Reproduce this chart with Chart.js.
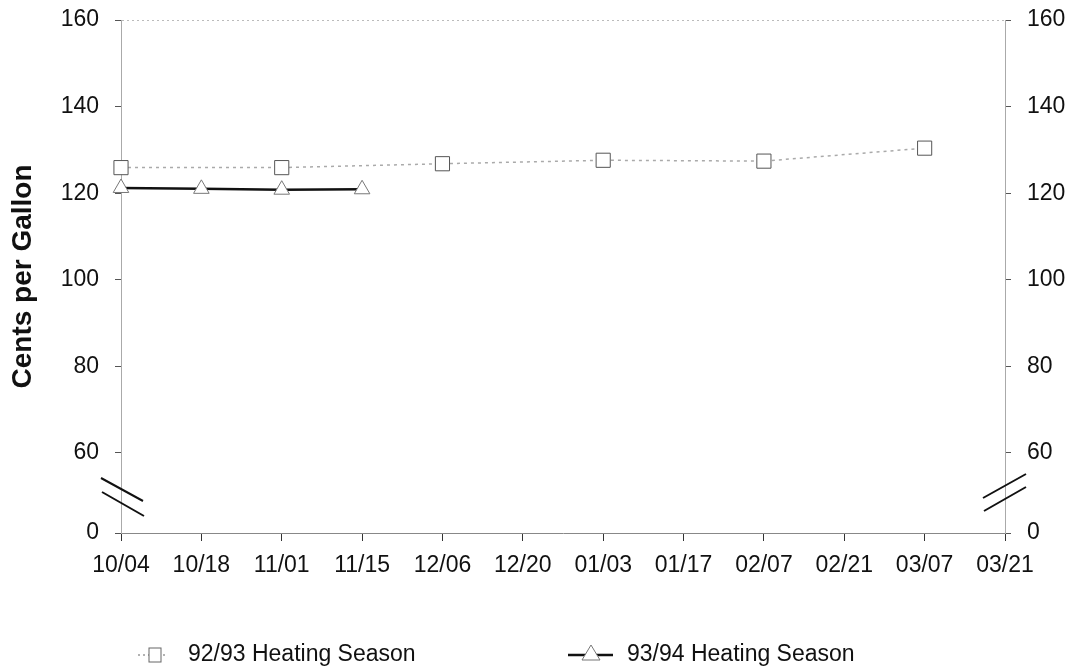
<!DOCTYPE html>
<html>
<head>
<meta charset="utf-8">
<script src="https://cdn.jsdelivr.net/npm/chart.js@4/dist/chart.umd.min.js"></script>
<style>
  html, body { margin: 0; padding: 0; background: #fff; }
  #wrap { width: 1074px; height: 666px; }
</style>
</head>
<body>
<div id="wrap"><canvas id="heating-chart" width="1074" height="666"></canvas></div>
<script>
var dates = ["10/04","10/18","11/01","11/15","12/06","12/20","01/03","01/17","02/07","02/21","03/07","03/21"];
var season9293 = [125.9, null, 125.9, null, 126.8, null, 127.6, null, 127.4, null, 130.4, null];
var season9394 = [121.2, 121.0, 120.8, 120.9, null, null, null, null, null, null, null, null];
var yTickLabels = [0, 60, 80, 100, 120, 140, 160];
var seriesNames = ["92/93 Heating Season", "93/94 Heating Season"];

// the axis is broken below 60: "0" is drawn one step under 60
var breakValue = 41.5;
var FONT = "'Liberation Sans', Arial, sans-serif";

function tickPos(v) { return v === 0 ? breakValue : v; }

function yAxis(pos) {
  return {
    position: pos,
    min: breakValue,
    max: 160,
    afterBuildTicks: function (scale) {
      scale.ticks = yTickLabels.map(function (v) { return { value: tickPos(v) }; });
    },
    afterFit: function (scale) {
      scale.width = pos === "left" ? 121 : 69;
      scale.paddingTop = 0;
      scale.paddingBottom = 0;
    },
    ticks: {
      color: "#111",
      font: { family: FONT, size: 23 },
      padding: 16,
      callback: function (v) { return v === breakValue ? "0" : v; }
    },
    grid: {
      drawOnChartArea: pos === "left",
      color: function (c) { return c.tick && c.tick.value === 160 ? "#bbb" : "rgba(0,0,0,0)"; },
      tickColor: "#555",
      tickLength: 6,
      lineWidth: 1
    },
    border: { display: true, color: "#aaa", dash: [2, 3], width: 1 },
    title: pos === "left" ? {
      display: true,
      text: "Cents per Gallon",
      color: "#111",
      font: { family: FONT, size: 28, weight: "bold" },
      padding: { top: 6, bottom: 0 }
    } : { display: false }
  };
}

var axisBreaks = {
  id: "axisBreaks",
  afterDraw: function (chart) {
    var ctx = chart.ctx;
    var l = chart.scales.y.right, r = chart.scales.y2.left;
    var yl = 497, yr = 492;
    ctx.save();
    ctx.strokeStyle = "#111";
    ctx.lineWidth = 2;
    ctx.beginPath();
    ctx.moveTo(l - 20, yl - 19); ctx.lineTo(l + 22, yl + 4);
    ctx.moveTo(l - 19, yl - 5); ctx.lineTo(l + 23, yl + 19);
    ctx.moveTo(r - 22, yr + 6); ctx.lineTo(r + 21, yr - 18);
    ctx.moveTo(r - 21, yr + 19); ctx.lineTo(r + 21, yr - 5);
    ctx.stroke();

    // legend
    var ly = 655;
    ctx.font = "23px " + FONT;
    ctx.fillStyle = "#111";
    ctx.textBaseline = "middle";
    ctx.textAlign = "left";

    ctx.strokeStyle = "#999";
    ctx.lineWidth = 1.5;
    ctx.setLineDash([2, 3]);
    ctx.beginPath(); ctx.moveTo(138, ly); ctx.lineTo(168, ly); ctx.stroke();
    ctx.setLineDash([]);
    ctx.fillStyle = "#fff";
    ctx.strokeStyle = "#666";
    ctx.lineWidth = 1;
    ctx.fillRect(149, ly - 7, 12, 14);
    ctx.strokeRect(149, ly - 7, 12, 14);
    ctx.fillStyle = "#111";
    ctx.fillText(seriesNames[0], 188, ly);

    ctx.strokeStyle = "#111";
    ctx.lineWidth = 2.5;
    ctx.beginPath(); ctx.moveTo(568, ly); ctx.lineTo(613, ly); ctx.stroke();
    ctx.fillStyle = "#fff";
    ctx.strokeStyle = "#777";
    ctx.lineWidth = 1;
    ctx.beginPath();
    ctx.moveTo(591, ly - 10); ctx.lineTo(600, ly + 5); ctx.lineTo(582, ly + 5); ctx.closePath();
    ctx.fill(); ctx.stroke();
    ctx.fillStyle = "#111";
    ctx.fillText(seriesNames[1], 627, ly);
    ctx.restore();
  }
};

var config = {
  type: "line",
  data: {
    labels: dates,
    datasets: [
      {
        label: seriesNames[0],
        data: season9293,
        spanGaps: true,
        borderColor: "#aaa",
        borderWidth: 1.5,
        borderDash: [3, 4],
        pointStyle: "rect",
        pointRadius: 10,
        pointBackgroundColor: "#fff",
        pointBorderColor: "#555",
        pointBorderWidth: 1,
        clip: false
      },
      {
        label: seriesNames[1],
        data: season9394,
        spanGaps: false,
        borderColor: "#111",
        borderWidth: 2.5,
        pointStyle: "triangle",
        pointRadius: 9,
        pointBackgroundColor: "#fff",
        pointBorderColor: "#777",
        pointBorderWidth: 1,
        clip: false
      }
    ]
  },
  options: {
    responsive: false,
    animation: false,
    layout: { padding: { top: 20, left: 0, right: 0, bottom: 0 } },
    plugins: { legend: { display: false }, tooltip: { enabled: false } },
    scales: {
      x: {
        offset: false,
        afterFit: function (scale) { scale.height = 133; },
        ticks: {
          color: "#111",
          font: { family: FONT, size: 23 },
          padding: 11,
          maxRotation: 0,
          autoSkip: false
        },
        grid: { drawOnChartArea: false, tickColor: "#333", tickLength: 8 },
        border: { display: true, color: "#888", dash: [3, 3], width: 1 }
      },
      y: yAxis("left"),
      y2: yAxis("right")
    }
  },
  plugins: [axisBreaks]
};

window.onload = function () {
  var ctx = document.getElementById("heating-chart").getContext("2d");
  window.heatingChart = new Chart(ctx, config);
};
</script>
</body>
</html>
